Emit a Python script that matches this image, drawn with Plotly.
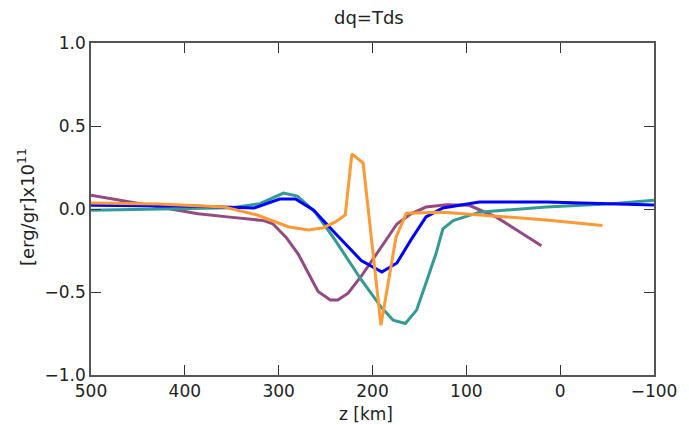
import plotly.graph_objects as go

# ---- data ----
blue_z = [500, 450, 400, 386, 326, 299, 282, 263, 240, 212, 190, 174, 159, 143, 125, 86, 15, -55, -100]
blue_v = [0.022, 0.02, 0.018, 0.017, 0.006, 0.06, 0.06, -0.006, -0.145, -0.31, -0.38, -0.325, -0.186, -0.048, 0.006, 0.042, 0.042, 0.03, 0.024]

teal_z = [500, 450, 400, 350, 320, 295, 280, 261, 240, 212, 191, 178, 165, 153, 143, 132, 125, 114, 86, 15, -55, -100]
teal_v = [-0.008, -0.003, 0.002, 0.007, 0.032, 0.096, 0.078, -0.019, -0.186, -0.426, -0.589, -0.67, -0.69, -0.609, -0.446, -0.263, -0.12, -0.07, -0.019, 0.012, 0.032, 0.053]

purple_z = [500, 450, 386, 352, 316, 306, 292, 279, 258, 245, 237, 226, 212, 191, 174, 159, 143, 121, 97, 68, 20]
purple_v = [0.083, 0.032, -0.029, -0.049, -0.07, -0.09, -0.171, -0.273, -0.497, -0.548, -0.548, -0.507, -0.405, -0.232, -0.09, -0.029, 0.012, 0.026, 0.022, -0.049, -0.222]

orange_z = [500, 428, 358, 323, 289, 268, 253, 240, 229, 222, 210, 191, 175, 164, 125, 86, 15, -45]
orange_v = [0.036, 0.03, 0.012, -0.036, -0.108, -0.126, -0.114, -0.079, -0.036, 0.332, 0.277, -0.70, -0.171, -0.025, -0.019, -0.036, -0.066, -0.10]

x_ticks = [500, 400, 300, 200, 100, 0, -100]
x_labels = ["500", "400", "300", "200", "100", "0", "\u2212100"]
y_ticks = [-1.0, -0.5, 0.0, 0.5, 1.0]
y_labels = ["\u22121.0", "\u22120.5", "0.0", "0.5", "1.0"]

series = [
    (purple_z, purple_v, "#944a80"),
    (teal_z, teal_v, "#339a96"),
    (blue_z, blue_v, "#0000ff"),
    (orange_z, orange_v, "#ff9933"),
]

fig = go.Figure()
for z, v, c in series:
    fig.add_trace(go.Scatter(x=z, y=v, mode="lines", line=dict(color=c, width=3),
                             showlegend=False, hoverinfo="skip"))

fam = "DejaVu Sans, Liberation Sans, sans-serif"
font = dict(family=fam, size=17, color="#222222")
axis_common = dict(showgrid=False, zeroline=False, showline=True, linecolor="#555555",
                   linewidth=1.5, mirror="ticks", ticks="inside", ticklen=10,
                   tickcolor="#333333", tickwidth=1, tickfont=font)

fig.update_layout(
    width=689, height=425,
    margin=dict(l=91, r=26, t=43, b=50),
    paper_bgcolor="white", plot_bgcolor="white",
    xaxis=dict(range=[500, -100], tickvals=x_ticks, ticktext=x_labels, **axis_common),
    yaxis=dict(range=[-1, 1], tickvals=y_ticks, ticktext=y_labels, **axis_common),
    annotations=[
        dict(text="dq=Tds", xref="paper", yref="paper", x=(373 - 91) / 572, y=1 + (43 - 18) / 332,
             xanchor="center", yanchor="middle", showarrow=False,
             font=dict(family=fam, size=18, color="#222222")),
        dict(text="z [km]", xref="paper", yref="paper", x=(370 - 91) / 572, y=-(414 - 375) / 332,
             xanchor="center", yanchor="middle", showarrow=False,
             font=dict(family=fam, size=17, color="#222222")),
        dict(text="[erg/gr]x10<sup>11</sup>", xref="paper", yref="paper", x=-(91 - 25) / 572,
             y=(375 - 207) / 332, xanchor="center", yanchor="middle", textangle=-90,
             showarrow=False, font=dict(family=fam, size=18, color="#222222")),
    ],
)

fig.write_html("out.html")
